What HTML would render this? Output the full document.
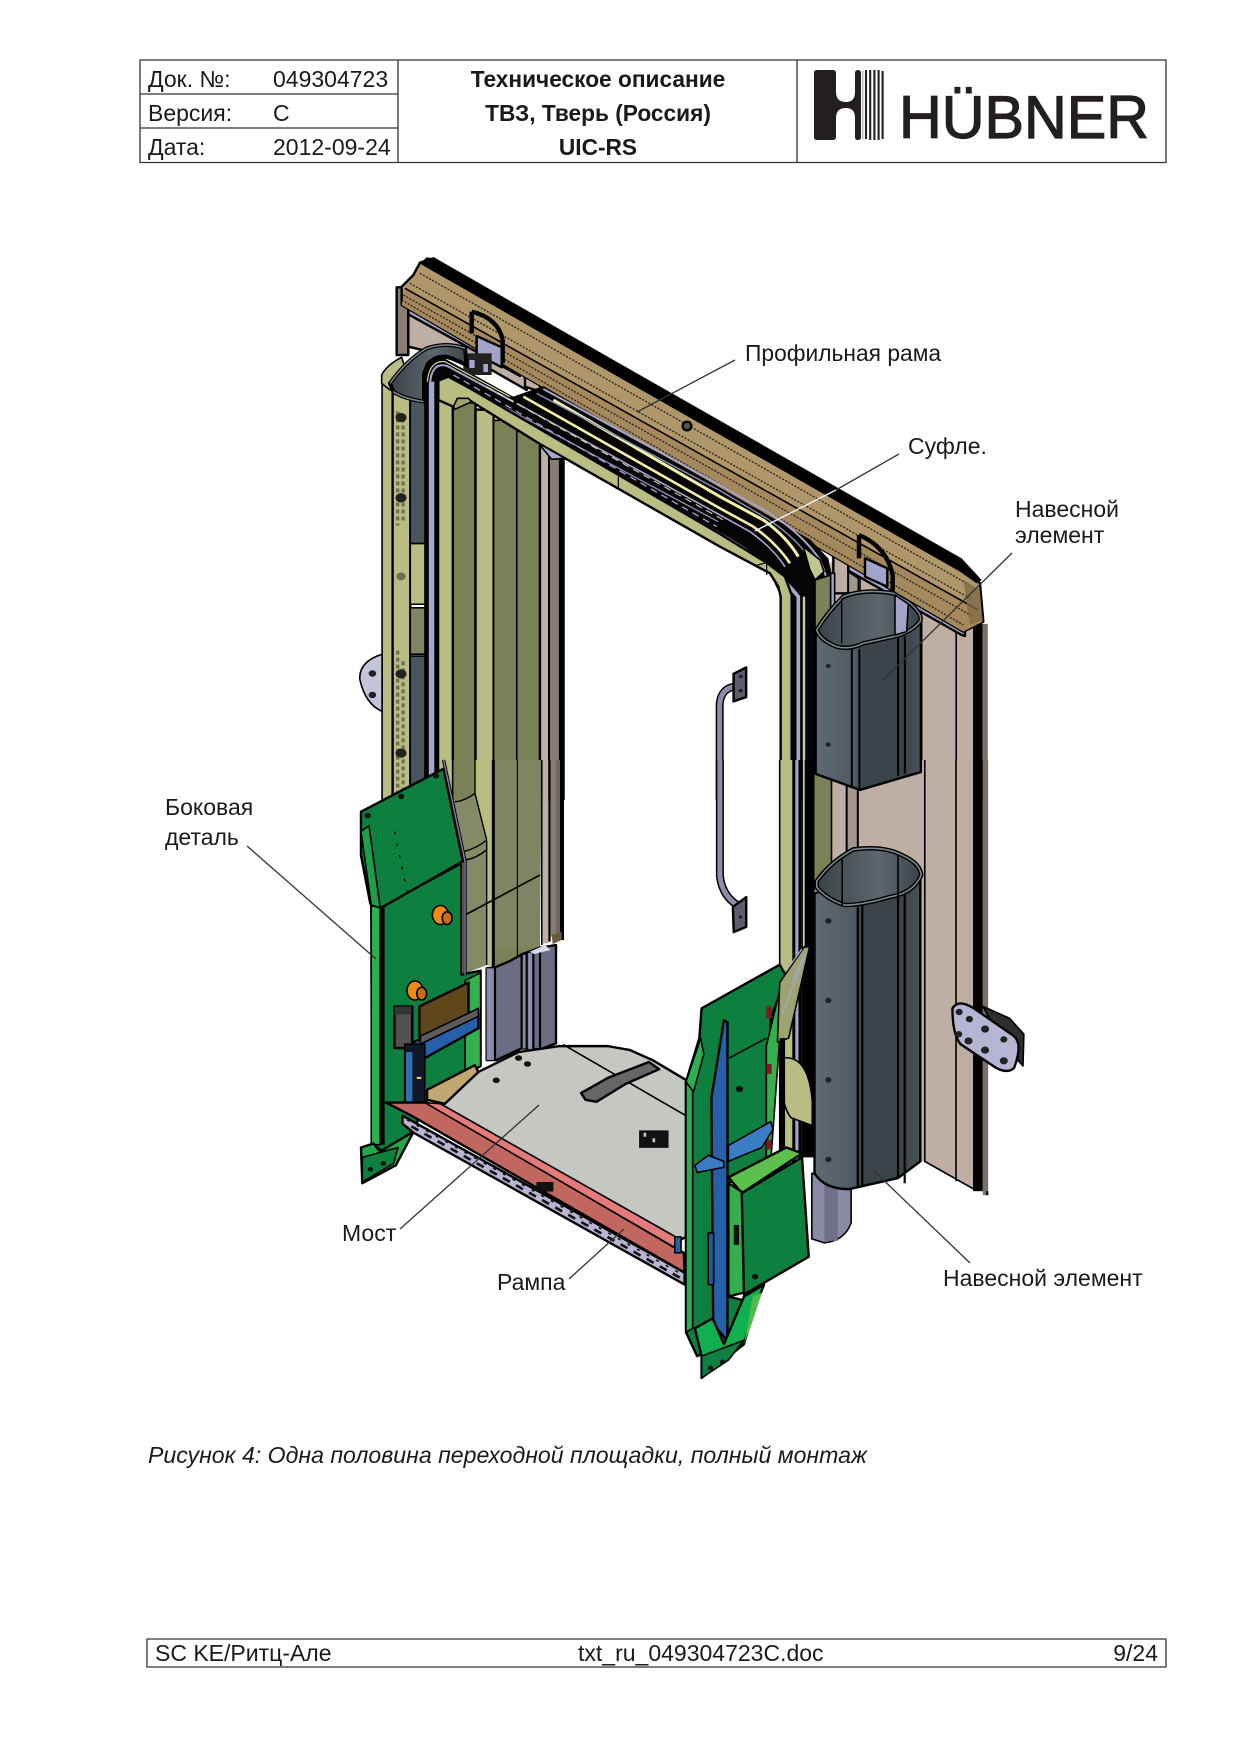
<!DOCTYPE html>
<html><head><meta charset="utf-8"><style>
html,body{margin:0;padding:0;background:#fff}
svg{display:block}
svg *{vector-effect:non-scaling-stroke}
text{font-family:"Liberation Sans",sans-serif;fill:#1a1a1a;font-size:23px;vector-effect:none}
.k{stroke:#000;stroke-width:1.6;stroke-linejoin:round}
.t{stroke:#000;stroke-width:2.4;stroke-linejoin:round}
.n{fill:none}
.l{stroke:#333;stroke-width:1.3;fill:none}
.d{stroke:#222;stroke-width:1.3;stroke-dasharray:2 1.5;fill:none}
</style></head><body>
<svg width="1240" height="1754" viewBox="0 0 1240 1754" xmlns="http://www.w3.org/2000/svg">
<defs>
<linearGradient id="hg" x1="0" x2="1" y1="0" y2="0"><stop offset="0" stop-color="#5f6a73"/><stop offset=".38" stop-color="#4f5a62"/><stop offset=".45" stop-color="#3a4448"/><stop offset=".85" stop-color="#3a4448"/><stop offset="1" stop-color="#4a555c"/></linearGradient>
<linearGradient id="ring" x1="0" x2="1" y1="0" y2="0"><stop offset="0" stop-color="#3a4348"/><stop offset=".6" stop-color="#5c676e"/><stop offset="1" stop-color="#3a4348"/></linearGradient>
</defs>

<!-- Header -->
<g stroke="#333" stroke-width="1.3" fill="none">
<rect x="140" y="60" width="1026" height="102.5"/>
<path d="M398 60V162.500M797 60V162.500M140 94H398M140 128H398"/>
</g>
<text x="148" y="87">Док. №:</text><text x="273" y="87">049304723</text>
<text x="148" y="121">Версия:</text><text x="273" y="121">C</text>
<text x="148" y="155">Дата:</text><text x="273" y="155">2012-09-24</text>
<g text-anchor="middle"><text x="598" y="87" font-weight="bold" style="font-size:22.7px">Техническое описание</text>
<text x="598" y="121" font-weight="bold" style="font-size:22.7px">ТВЗ, Тверь (Россия)</text>
<text x="598" y="155" font-weight="bold" style="font-size:22.7px">UIC-RS</text></g>
<!-- Logo -->
<path d="M814,73Q814,70 817,70H833Q836,70 836,73V92Q836,102 846,102Q855,102 855,92V73Q855,70 858,70Q861,70 861,73V137Q861,140 858,140Q855,140 855,137V118Q855,108 846,108Q836,108 836,118V137Q836,140 833,140H817Q814,140 814,137Z" fill="#231f20"/>
<path d="M862.800 71V139" stroke="#999" stroke-width="1"/>
<g stroke="#231f20" stroke-width="2.1"><path d="M866 70V139M870.200 70V140M874.400 70V140M878.600 70V140M882.600 71V139"/></g>
<text x="899" y="138" style="font-size:60px;fill:#231f20;stroke:#231f20;stroke-width:1.2" textLength="250" lengthAdjust="spacingAndGlyphs">HÜBNER</text>

<!-- A: back verticals -->
<g transform="translate(340,240) scale(0.4209,0.3571)">
<polygon points="1165,900 1510,1085 1510,1568 1165,1568" fill="#bfaea3"/>
<path d="M1464,1085V1568M1382,1060V1568" class="k n"/>
<rect x="1504" y="1075" width="23" height="493" fill="#000"/>
<rect x="1527" y="1075" width="12" height="493" fill="#7a7068"/>
<rect x="100" y="380" width="25" height="1270" fill="#b9bd82" class="k"/>
<rect x="125" y="430" width="42" height="1220" fill="#b9bd82" class="t"/>
<path d="M137,480V800M150,500V790M137,1150V1640M150,1180V1640" stroke="#6f7358" stroke-width="3.4" stroke-dasharray="4 3" fill="none"/>
<rect x="167" y="450" width="38" height="400" fill="#4a555d" class="k"/>
<rect x="167" y="850" width="38" height="170" fill="#b9bd82" class="k"/>
<rect x="167" y="1030" width="38" height="130" fill="#7f8562" class="k"/>
<rect x="167" y="1165" width="38" height="485" fill="#4a555d" class="k"/>
<g fill="#222"><circle cx="145" cy="497" r="13"/><circle cx="145" cy="722" r="13"/><circle cx="145" cy="942" r="11" fill="#6a6e55"/><circle cx="145" cy="1215" r="13"/><circle cx="145" cy="1437" r="13"/></g>
<path d="M100,1160Q45,1180 47,1230Q60,1300 100,1320Z" fill="#c4c4da" class="k"/>
<circle cx="77" cy="1214" r="9" fill="#222"/><circle cx="77" cy="1274" r="9" fill="#222"/>
<rect x="200" y="345" width="34" height="1305" fill="#000"/>
<rect x="211" y="370" width="11" height="1280" fill="#a6a6cc"/>
<!-- folds -->
<rect x="233" y="400" width="36" height="1168" fill="#b9bd82" class="t"/>
<rect x="268" y="455" width="54" height="1113" fill="#7a8156" class="t"/>
<rect x="322" y="475" width="43" height="1093" fill="#b9bd82" class="t"/>
<rect x="365" y="505" width="55" height="1063" fill="#7a8156" class="k"/>
<rect x="420" y="535" width="55" height="1033" fill="#7a8156" class="k"/>
<rect x="475" y="575" width="22" height="993" fill="#bfaea3" class="t"/>
<rect x="497" y="590" width="25" height="978" fill="#857c72" class="k"/>
<rect x="522" y="605" width="12" height="963" fill="#000"/>
<!-- handle -->
<path d="M902,1568V1300Q905,1255 940,1250" fill="none" stroke="#000" stroke-width="8"/>
<path d="M902,1568V1300Q905,1255 940,1250" fill="none" stroke="#8c8cab" stroke-width="5"/>
<polygon points="935,1215 965,1197 965,1280 935,1292" fill="#5c5c6e" class="t"/>
<circle cx="952" cy="1222" r="5" fill="#222"/><circle cx="952" cy="1262" r="5" fill="#222"/>
</g>

<!-- C: beam, bellows, frame -->
<g transform="translate(370,250) scale(0.33333)">
<rect x="80" y="112" width="35" height="203" fill="#8a7d72" class="t"/>
<polygon points="115,165 470,360 470,420 330,340 115,290" fill="#bfaea3" class="t"/>
<polygon points="115,165 450,350 450,378 115,193" fill="#a6a6cc" class="t"/>
<polygon points="465,365 510,388 510,425 465,410" fill="#bfaea3" class="t"/>
<polygon points="1390,895 1435,915 1435,1030 1390,1030" fill="#bfaea3" class="t"/>
<polygon points="1435,965 1465,985 1465,1030 1435,1030" fill="#a3968b" class="k"/>
<polygon points="1470,980 1550,1025 1550,1030 1470,1030" fill="#bfaea3" class="k"/>
<polygon points="1435,935 1785,1130 1785,1158 1775,1155 1435,962" fill="#a6a6cc" class="t"/>
<!-- beam -->
<polygon points="95,110 130,75 150,38 190,25 1770,930 1830,1000 1840,1115 1780,1145 95,165" fill="#b0976a" class="t"/>
<polygon points="105,115 1825,1080 1838,1115 1780,1145 95,165" fill="#a5895c"/>
<path d="M105,115L1825,1080" stroke="#000" stroke-width="1.6" fill="none"/>
<path d="M150,70L1790,1000" class="d"/>
<path d="M120,100L1800,1045" class="d"/>
<path d="M100,135L1810,1100" class="d"/>
<path d="M95,150L1780,1125" class="d"/>
<polygon points="150,40 170,22 195,25 1775,925 1835,990 1820,1000 1770,965 165,50" fill="#000"/>
<polygon points="1780,990 1830,1020 1838,1110 1800,1125" fill="#7e6b47" opacity=".8"/>
<ellipse cx="951" cy="528" rx="13" ry="13" fill="#5c5648" stroke="#000" stroke-width="2.4"/>
<!-- hooks -->
<path d="M305,185Q385,205 398,270V340" fill="none" stroke="#000" stroke-width="4.4"/>
<path d="M305,185V250" stroke="#000" stroke-width="4.4"/>
<polygon points="320,258 395,292 395,352 320,312" fill="#a3a3c9" class="t"/>
<path d="M1467,855Q1550,890 1568,975V1030" fill="none" stroke="#000" stroke-width="4.4"/>
<path d="M1467,855V925" stroke="#000" stroke-width="4.4"/>
<polygon points="1485,925 1552,955 1552,1010 1485,980" fill="#a3a3c9" class="t"/>
<!-- bellows -->
<polygon points="160,400 172,335 210,318 250,340 430,440 520,408 1320,868 1375,925 1395,1020 1395,1650 1232,1650 1232,1040 1200,970 1050,880 300,450 205,400" fill="#050505"/>
<rect x="280" y="310" width="85" height="65" fill="#222"/>
<rect x="298" y="330" width="16" height="24" fill="#a6a6cc"/><rect x="340" y="342" width="14" height="24" fill="#a6a6cc"/>
<g fill="none">
<path d="M180,1650V400Q185,335 232,348L430,455" stroke="#a6a6cc" stroke-width="2"/>
<path d="M172,395Q178,330 225,335L420,440" stroke="#e9e5a2" stroke-width="1.1"/>
<path d="M187,1650V395" stroke="#a6a6cc" stroke-width="4"/>
<path d="M460,440L1050,775L1150,830Q1220,880 1260,940" stroke="#f3efa8" stroke-width="2.6"/>
<path d="M550,450L1050,740L1180,810Q1250,860 1285,920" stroke="#f3efa8" stroke-width="3"/>
<path d="M520,417L1050,705L1200,790Q1300,855 1350,930Q1375,990 1378,1030" stroke="#a6a6cc" stroke-width="2"/>
<path d="M500,430L1050,722L1190,805Q1290,870 1335,950" stroke="#8f8fb8" stroke-width="1.4"/>
<path d="M440,460L1050,795L1140,845Q1210,895 1245,950" stroke="#a6a6cc" stroke-width="1.6"/>
<path d="M400,470L1045,815" stroke="#8f8fb8" stroke-width="1.3"/>
<path d="M250,375L1040,830" stroke="#a6a6cc" stroke-width="1.3" stroke-dasharray="7 5"/>
<path d="M350,410L1060,810" stroke="#e9e5a2" stroke-width="1" stroke-dasharray="7 5"/>
<path d="M240,390L1040,848Q1200,935 1285,1040V1650" stroke="#a6a6cc" stroke-width="3.6"/>
<path d="M1302,1040V1650" stroke="#c9cc96" stroke-width="2.4"/>
</g>
<polygon points="1300,890 1350,930 1362,965 1335,990 1320,960" fill="#c2c68d" class="k"/>
<polygon points="1335,990 1382,975 1382,1650 1335,1650" fill="#7a8156" class="k"/>
<rect x="1382" y="970" width="12" height="680" fill="#a6a6cc" class="k"/>
<!-- frame -->
<polygon points="205,392 235,380 300,415 1050,852 1190,938 1245,980 1265,1035 1265,1650 1232,1650 1232,1040 1225,1010 1200,970 1050,890 585,625 510,582 300,452 250,470 205,450" fill="#b9bd82" class="t"/>
<path d="M745,680V712M1190,938L1162,945M1190,938V975" stroke="#000" stroke-width="1.2" fill="none"/>
<polygon points="250,470 262,445 295,445 305,455 255,478" fill="#9ea26f" class="k"/>
<polygon points="510,582 550,605 585,625 545,628 518,595" fill="#a6a6cc" class="k"/>
<!-- left hanger top -->
<path d="M35,375Q50,345 95,322L120,400L60,420L35,400Z" fill="#b9bd82" class="k"/>
<path d="M60,400Q110,330 170,295Q230,275 285,295L290,345L245,325Q205,310 175,340L162,370V455Q100,445 70,425Z" fill="url(#ring)" stroke="#000" stroke-width="4"/>
<path d="M60,400Q110,330 170,295Q230,275 285,295M70,425Q100,445 160,455" fill="none" stroke="#788389" stroke-width="1.6"/>
</g>

<!-- B part 1 -->
<g transform="translate(340,760) scale(0.4464,0.3974)">
<polygon points="1100,0 1420,0 1420,1082 1310,1010 1100,1010" fill="#bfaea3"/>
<rect x="1135" y="0" width="25" height="260" fill="#a3968b"/>
<path d="M1380,0V1060M1310,0V1012M1310,1010L1420,1080" class="k n"/>
<rect x="1418" y="0" width="22" height="1085" fill="#000"/>
<rect x="1440" y="0" width="12" height="1095" fill="#7a7068"/>
<path d="M1450,1085V1095" stroke="#000" stroke-width="2"/>
<polygon points="1440,620 1500,650 1532,690 1530,770 1490,720" fill="#2e2e2e" class="k"/>
<path d="M1372,625Q1385,600 1420,625L1510,695Q1530,715 1510,775Q1495,790 1470,775L1390,715Q1372,690 1372,625Z" fill="#b6b6d4" class="t"/>
<g fill="#222"><circle cx="1387" cy="634" r="8"/><circle cx="1410" cy="652" r="8"/><circle cx="1445" cy="677" r="9"/><circle cx="1386" cy="690" r="8"/><circle cx="1408" cy="707" r="9"/><circle cx="1445" cy="730" r="9"/><circle cx="1487" cy="703" r="8"/><circle cx="1487" cy="757" r="9"/></g>
<rect x="985" y="0" width="30" height="1060" fill="#b9bd82"/>
<path d="M985,0V1060M1015,0V1060" class="k n"/>
<rect x="1015" y="0" width="18" height="1040" fill="#000"/><rect x="1020" y="0" width="7" height="1040" fill="#a6a6cc"/>
<rect x="1033" y="0" width="30" height="1000" fill="#000"/>
<rect x="1037" y="0" width="4" height="470" fill="#c9cc96"/>
<rect x="1063" y="0" width="38" height="330" fill="#7a8156"/>
<path d="M1101,0V280" class="k n"/>
<path d="M1135,0V250M1160,0V240" stroke="#000" stroke-width="2" fill="none"/>
<path d="M990,750Q1050,740 1058,860V920L1010,900Q990,870 990,810Z" fill="#b9bd82" class="k"/>
<path d="M1057,1040L1145,1060V1165Q1130,1210 1085,1215L1057,1205Z" fill="#8a8aa8" class="k"/>
<rect x="1085" y="1060" width="30" height="150" fill="#6f6f8a"/>
<path d="M1063,335L1300,280V1010L1250,1052L1140,1080Q1085,1080 1063,1040Z" fill="url(#hg)" class="t"/>
<path d="M1160,370V1075M1170,365V1075" stroke="#000" stroke-width="2.2" fill="none"/>
<path d="M1250,345V1050M1265,340V1065" stroke="#000" stroke-width="2.2" fill="none"/>
<path d="M1068,305Q1100,255 1150,225Q1220,215 1260,240Q1300,260 1302,290Q1285,335 1230,345Q1170,365 1130,365Q1090,350 1068,320Z" fill="url(#ring)" stroke="#000" stroke-width="4.5"/>
<path d="M1068,305Q1100,255 1150,225Q1220,215 1260,240Q1300,260 1302,290Q1285,335 1230,345Q1170,365 1130,365Q1090,350 1068,320Z" fill="none" stroke="#7c888e" stroke-width="1.6"/>
<path d="M1250,240V345M1125,250V365" stroke="#000" stroke-width="1.6" fill="none"/>
<g fill="#222"><circle cx="1094" cy="405" r="7"/><circle cx="1094" cy="605" r="7"/><circle cx="1094" cy="805" r="7"/><circle cx="1094" cy="1005" r="7"/></g>
</g>

<!-- E: lower folds -->
<g transform="translate(430,760) scale(0.33333)">
<polygon points="30,0 335,0 330,560 275,580 240,600 195,620 170,615 105,640 100,290" fill="#7a8156"/>
<polygon points="30,0 68,0 68,120 60,125" fill="#b9bd82"/>
<path d="M68,0V120" stroke="#000" stroke-width="1.6"/>
<polygon points="135,0 190,0 190,620 170,615 170,240 135,100" fill="#b9bd82"/>
<polygon points="75,130 138,105 170,240 170,270 105,300 100,270" fill="#858a66"/>
<polygon points="105,300 170,270 170,615 105,640" fill="#858a66"/>
<rect x="195" y="0" width="135" height="565" fill="#7f8562"/>
<path d="M75,125Q100,125 135,100M100,275Q140,265 170,240M105,300Q140,295 172,268M135,0V100L170,240V615M105,300V640" stroke="#000" stroke-width="1.4" fill="none"/>
<path d="M190,0V622" stroke="#000" stroke-width="3" fill="none"/>
<path d="M262,0V590" stroke="#000" stroke-width="1.1" fill="none"/>
<path d="M105,465L330,345" stroke="#000" stroke-width="1.6" fill="none"/>
<rect x="333" y="0" width="5" height="555" fill="#000"/>
<rect x="338" y="0" width="17" height="550" fill="#bfaea3"/>
<rect x="355" y="0" width="7" height="545" fill="#000"/>
<rect x="362" y="0" width="16" height="530" fill="#857c72"/>
<rect x="378" y="0" width="12" height="525" fill="#6e665f"/>
<rect x="390" y="0" width="12" height="540" fill="#000"/>
<polygon points="365,525 395,515 395,540 368,552" fill="#6b5a3a"/>
<polygon points="170,625 195,622 240,603 275,583 330,563 378,555 378,850 330,868 275,865 200,900 170,900" fill="#6c6c84" class="t"/>
<rect x="170" y="625" width="25" height="275" fill="#8a8aa8"/>
<rect x="275" y="585" width="15" height="280" fill="#8a8aa8"/>
<rect x="295" y="580" width="15" height="290" fill="#8f8fb0"/>
<path d="M195,622V900M275,585V865M290,580V865M310,580V870M330,565V868" stroke="#000" stroke-width="2.2" fill="none"/>
<polygon points="300,575 345,555 362,570 312,582" fill="#d8d8ee"/>
</g>

<!-- B part 2 -->
<g transform="translate(340,760) scale(0.4464,0.3974)">
<polygon points="70,365 90,370 272,260 272,540 315,530 315,770 190,860 165,935 95,985 72,965" fill="#0d7f3f" class="t"/>
<rect x="70" y="368" width="20" height="600" fill="#2ab04c" class="k"/>
<rect x="92" y="368" width="8" height="600" fill="#000"/>
<polygon points="280,555 315,535 315,770 280,790" fill="#33b04d" class="k"/>
<polygon points="47,975 75,965 90,985 165,935 125,1020 50,1065" fill="#24a84c" class="t"/>
<polygon points="50,1000 130,975 120,1015 50,1062" fill="#0d7f3f" class="k"/>
<circle cx="68" cy="1030" r="6" fill="#111"/><circle cx="97" cy="1015" r="6" fill="#111"/>
<polygon points="178,620 288,560 288,640 178,705" fill="#60461b" class="t"/>
<polygon points="160,712 310,640 310,675 190,750 160,760" fill="#2560a8" class="t"/>
<polygon points="180,695 310,625 310,645 180,715" fill="#5c5c5c" class="k"/>
<rect x="122" y="620" width="40" height="105" fill="#515151" class="t"/>
<polygon points="122,620 160,620 160,640 122,640" fill="#333"/>
<rect x="145" y="715" width="45" height="155" fill="#10182a" class="k"/>
<rect x="148" y="735" width="14" height="130" fill="#2f70b0"/>
<path d="M172,800H182" stroke="#e8d84b" stroke-width="2"/>
<g><ellipse cx="225" cy="390" rx="18" ry="24" fill="#ef8a17" class="k"/><ellipse cx="240" cy="398" rx="11" ry="16" fill="#c76e10" class="k"/>
<ellipse cx="168" cy="580" rx="18" ry="24" fill="#ef8a17" class="k"/><ellipse cx="183" cy="588" rx="11" ry="16" fill="#c76e10" class="k"/></g>
<polygon points="47,130 232,22 275,255 92,372 68,362 47,240" fill="#0d7f3f" class="t"/>
<polygon points="47,180 70,365 90,372 65,165" fill="#1e9c48" class="k"/>
<path d="M122,180L150,330" stroke="#000" stroke-width="1.2" stroke-dasharray="3 9" fill="none"/>
<path d="M232,0L280,255V540" stroke="#000" stroke-width="3.4" fill="none"/>
<path d="M232,0L280,255V540" stroke="#7a7aa0" stroke-width="1.5" fill="none"/>
<g fill="#111"><circle cx="62" cy="140" r="7"/><circle cx="137" cy="92" r="7"/><circle cx="215" cy="40" r="7"/></g>
<!-- floor -->
<polygon points="195,830 302,768 312,790 235,865 195,855" fill="#c2a771" class="t"/>
<polygon points="235,865 310,785 400,735 490,720 600,720 650,730 700,755 775,805 775,1200 750,1215 200,870" fill="#c5c7c3" class="t"/>
<path d="M500,716L775,895" class="k n"/>
<g fill="#111"><ellipse cx="400" cy="750" rx="8" ry="7"/><ellipse cx="420" cy="765" rx="8" ry="7"/><ellipse cx="350" cy="806" rx="8" ry="7"/></g>
<polygon points="540,838 600,800 692,760 715,778 640,815 575,860 550,855" fill="#666" class="t"/>
<rect x="670" y="932" width="66" height="44" fill="#111"/>
<rect x="680" y="938" width="6" height="10" fill="#c5c7c3"/><rect x="700" y="952" width="6" height="10" fill="#c5c7c3"/>
<!-- ramp -->
<polygon points="140,895 772,1290 772,1320 165,938 140,915" fill="#b6b6d4" class="t"/>
<path d="M160,922L770,1308" stroke="#111" stroke-width="2.6" stroke-dasharray="8 7" fill="none"/>
<path d="M150,905L770,1297" stroke="#111" stroke-width="1.6" stroke-dasharray="3 8" fill="none"/>
<polygon points="103,862 195,862 770,1240 772,1290 160,895" fill="#c26660" class="t"/>
<polygon points="190,862 225,865 752,1200 752,1228" fill="#e57a7a" class="k"/>
<rect x="440" y="1062" width="38" height="24" fill="#111"/>
<rect x="750" y="1200" width="14" height="40" fill="#2560a8" class="k"/>
<!-- right green assembly -->
<polygon points="810,625 985,515 1000,545 965,650 955,1005 870,1065 870,1350 905,1360 905,1460 860,1470 800,1500 775,1440 775,810 805,700" fill="#0d7f3f" class="t"/>
<polygon points="775,810 790,830 790,1430 775,1440" fill="#2ab04c" class="k"/>
<polygon points="775,810 808,700 815,740 792,835" fill="#2ab04c" class="k"/>
<polygon points="955,720 985,580 985,700 965,1010 955,1005" fill="#33b04d" class="k"/>
<rect x="955" y="620" width="12" height="30" fill="#7a1c1c"/><rect x="955" y="765" width="12" height="25" fill="#7a1c1c"/><rect x="955" y="955" width="12" height="25" fill="#7a1c1c"/>
<path d="M872,750L955,700" class="k n"/>
<polygon points="985,560 1040,470 1052,470 1005,700 980,710" fill="#9ea26f" class="k"/>
<path d="M1000,530L1035,475M1012,560L1045,480M990,640L1040,500" stroke="#a6a6cc" stroke-width="1.4" fill="none"/>
<rect x="985" y="700" width="12" height="310" fill="#000"/>
<polygon points="860,655 868,660 868,1462 836,1420 832,850" fill="#2560a8" class="t"/>
<polygon points="795,1020 825,995 860,1010 860,1025 800,1038" fill="#3b7cc7" class="k"/>
<polygon points="870,970 965,910 970,930 945,975 870,1010" fill="#3b7cc7" class="k"/>
<circle cx="895" cy="828" r="8" fill="#111"/>
<polygon points="870,1050 1000,975 1035,990 900,1090" fill="#5cc04c" class="t"/>
<polygon points="870,1065 905,1090 905,1340 870,1350" fill="#33b04d" class="t"/>
<polygon points="900,1090 1035,1000 1050,1250 905,1345" fill="#0d7f3f" class="t"/>
<rect x="882" y="1170" width="12" height="50" fill="#111"/>
<rect x="825" y="1190" width="12" height="130" fill="#1f5a9a" class="k"/>
<circle cx="930" cy="1300" r="7" fill="#111"/>
<polygon points="795,1430 835,1405 860,1470 905,1350 950,1320 925,1390 905,1470 810,1555 810,1500" fill="#10b050" class="t"/>
<polygon points="810,1500 905,1460 870,1510 810,1555" fill="#0d7f3f" class="k"/>
<polygon points="925,1350 945,1340 925,1410 905,1470" fill="#55b84a"/>
<circle cx="830" cy="1530" r="6" fill="#111"/><circle cx="857" cy="1515" r="6" fill="#111"/>
<path d="M851,0V290Q855,340 890,365" fill="none" stroke="#000" stroke-width="8"/>
<path d="M851,0V290Q855,340 890,365" fill="none" stroke="#8c8cab" stroke-width="5"/>
<polygon points="880,370 910,345 910,420 882,433" fill="#5c5c6e" class="t"/>
<circle cx="897" cy="395" r="4" fill="#222"/>
</g>

<!-- Upper right hanger -->
<g transform="translate(340,240) scale(0.4209,0.3571)">
<path d="M1130,1090V1495L1235,1540L1380,1490V1060Z" fill="url(#hg)" class="t"/>
<path d="M1216,1145V1535M1234,1145V1540M1326,1110V1500M1342,1110V1495" stroke="#000" stroke-width="2" fill="none"/>
<circle cx="1160" cy="1193" r="6" fill="#222"/><circle cx="1160" cy="1413" r="6" fill="#222"/>
</g>
<g transform="translate(720,480) scale(0.33333)">
<path d="M290,450Q320,400 370,350Q430,325 520,340L570,370Q610,405 600,425Q570,460 520,470L430,490Q390,510 350,500Q300,480 290,450Z" fill="url(#ring)" stroke="#000" stroke-width="4.5"/>
<path d="M290,450Q320,400 370,350Q430,325 520,340L570,370Q610,405 600,425Q570,460 520,470L430,490Q390,510 350,500Q300,480 290,450Z" fill="none" stroke="#7c888e" stroke-width="1.6"/>
<polygon points="525,345 565,372 560,455 525,465" fill="#a3a3c9" class="k"/>
<path d="M365,355V490" stroke="#000" stroke-width="1.4"/>
</g>

<!-- Leader lines -->
<path d="M735,360L637,412" class="l"/>
<path d="M899,454L836,490" class="l"/>
<path d="M836,490L755,531" fill="none" stroke="#f2f2f2" stroke-width="1.4"/>
<path d="M1012,553L883,680" class="l"/>
<path d="M247,846L376,959" class="l"/>
<path d="M400,1229L539,1105" class="l"/>
<path d="M569,1279L624,1229" class="l"/>
<path d="M970,1263L873,1170" class="l"/>

<!-- Labels -->
<text x="745" y="361" style="font-size:22.8px">Профильная рама</text>
<text x="908" y="454">Суфле.</text>
<text x="1015" y="517">Навесной</text>
<text x="1015" y="543">элемент</text>
<text x="165" y="815">Боковая</text>
<text x="165" y="845">деталь</text>
<text x="342" y="1241">Мост</text>
<text x="497" y="1290">Рампа</text>
<text x="943" y="1286">Навесной элемент</text>

<text x="148" y="1463" style="font-style:italic;font-size:23.1px">Рисунок 4: Одна половина переходной площадки, полный монтаж</text>

<!-- Footer -->
<rect x="147" y="1639" width="1019" height="28" fill="none" stroke="#333" stroke-width="1.3"/>
<text x="155" y="1661">SC KE/Ритц-Але</text>
<text x="578" y="1661">txt_ru_049304723C.doc</text>
<text x="1158" y="1661" text-anchor="end">9/24</text>
</svg>
</body></html>
